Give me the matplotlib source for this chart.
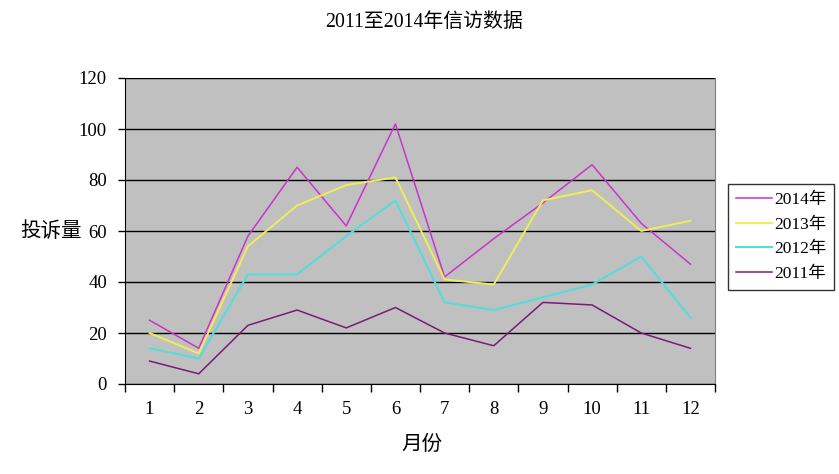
import numpy as np
import matplotlib.pyplot as plt

plt.rcParams['font.family'] = ['Liberation Serif', 'Noto Sans CJK SC', 'DejaVu Sans']

months = [str(m) for m in range(1, 13)]
y2014 = [25, 14, 58, 85, 62, 102, 42, 57, 71, 86, 63, 47]
y2013 = [20, 12, 54, 70, 78, 81, 41, 39, 72, 76, 60, 64]
y2012 = [14, 10, 43, 43, 58, 72, 32, 29, 34, 39, 50, 26]
y2011 = [9, 4, 23, 29, 22, 30, 20, 15, 32, 31, 20, 14]

series = [("2014年", y2014, "#CC33CC", 1.1),
          ("2013年", y2013, "#EEEE55", 1.4),
          ("2012年", y2012, "#55DDDD", 1.5),
          ("2011年", y2011, "#7A1A7A", 1.1)]

fig = plt.figure(figsize=(8.39, 4.74), dpi=100)
ax = fig.add_axes([125/839, 1 - 384/474, 590/839, 306/474])
ax.set_facecolor("#C0C0C0")

x = np.arange(1, 13)
for name, vals, col, w in series:
    ax.plot(x, vals, color=col, lw=w, label=name)

ax.set_xlim(0.5, 12.5)
ax.set_ylim(0, 120)
ax.set_yticks(range(0, 121, 20))
ax.yaxis.grid(True, color="black", lw=1)
ax.set_axisbelow(True)

ax.set_xticks(x)
ax.set_xticklabels(months)
ax.set_xticks(np.arange(0.5, 13, 1), minor=True)
ax.tick_params(axis="x", which="major", length=0, pad=12, labelsize=13.5)
ax.tick_params(axis="x", which="minor", length=6, width=1, direction="out")
ax.tick_params(axis="y", length=5, width=1, direction="out", pad=8, labelsize=13.5)

ax.spines["top"].set_visible(False)
ax.spines["right"].set_color("#808080")
ax.spines["left"].set_color("black")
ax.spines["bottom"].set_color("black")

fig.text(424/839, 1 - 22/474, "2011至2014年信访数据", ha="center", va="center", fontsize=14.3)
fig.text(51/839, 1 - 232/474, "投诉量", ha="center", va="center", fontsize=14.8)
fig.text(422/839, 1 - 445/474, "月份", ha="center", va="center", fontsize=14.8)

leg = ax.legend(loc="center left", bbox_to_anchor=(728/839, 1 - 237/474),
                bbox_transform=fig.transFigure, frameon=True, fancybox=False,
                edgecolor="black", fontsize=12.5, handlelength=2.1,
                handletextpad=0.1, borderpad=0.45, labelspacing=0.5,
                borderaxespad=0)
leg.get_frame().set_linewidth(1)

fig.savefig("out.png", dpi=100)
